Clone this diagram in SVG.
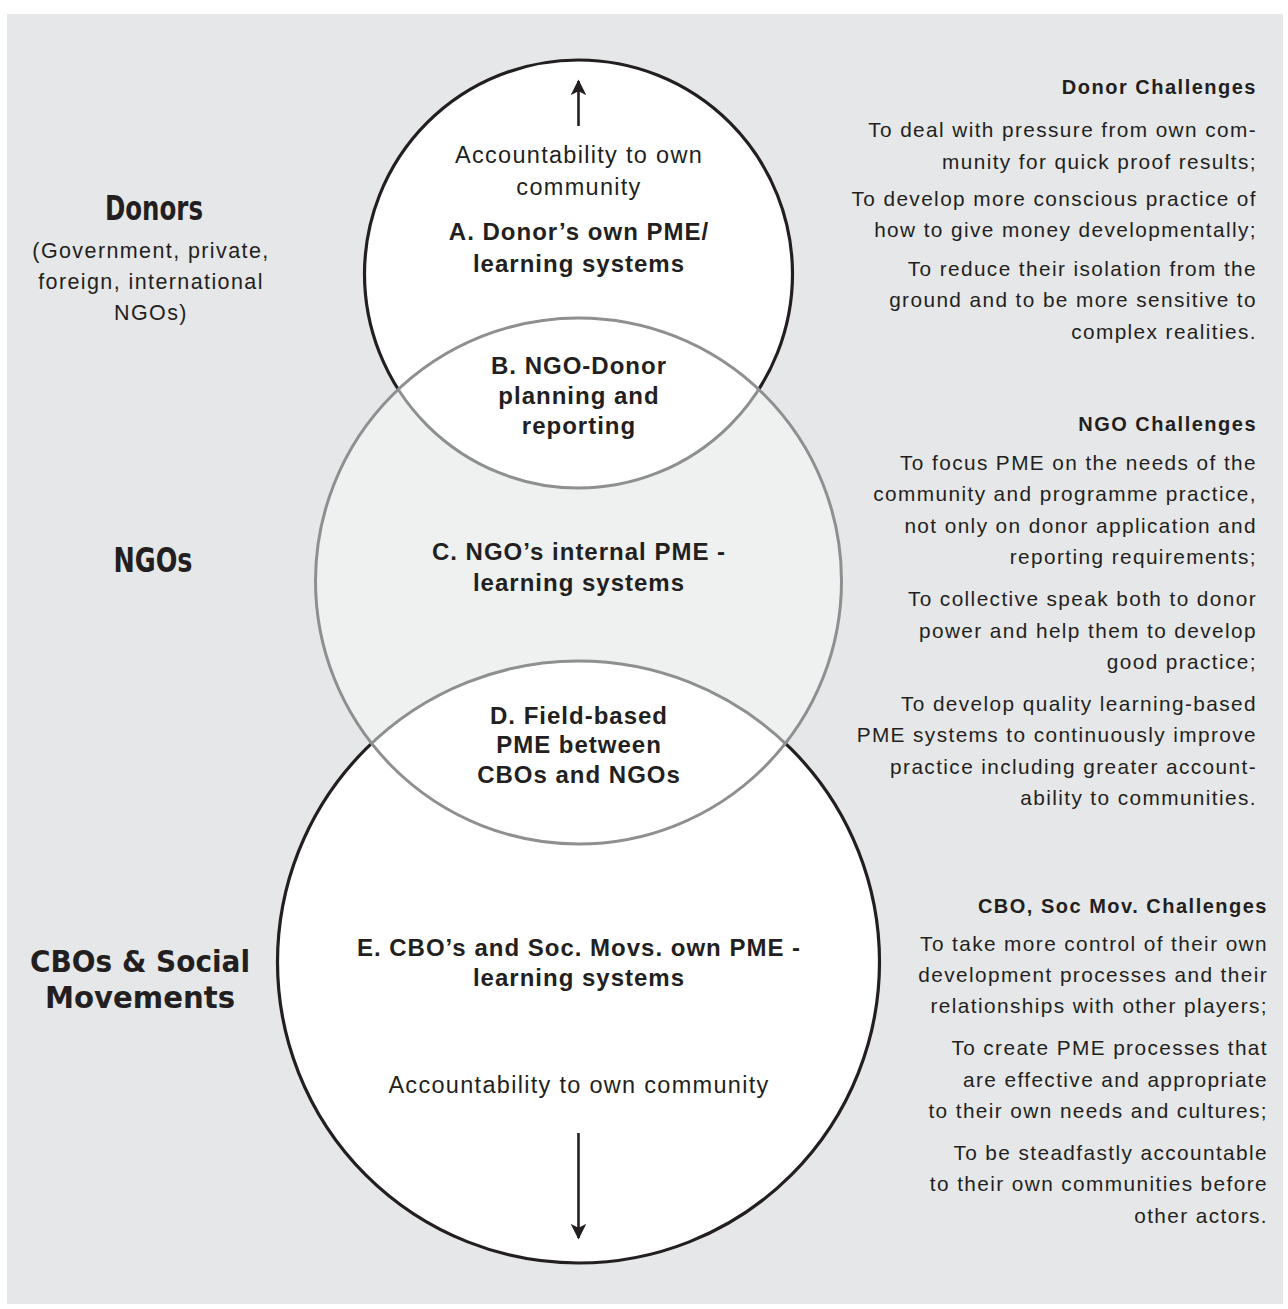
<svg xmlns="http://www.w3.org/2000/svg" width="1288" height="1309" viewBox="0 0 1288 1309">
<style>
.t{font-family:"Liberation Sans",Arial,sans-serif;fill:#231f20;}
.c{text-anchor:middle;font-size:23.5px;letter-spacing:1.3px;}
.cb{text-anchor:middle;font-size:24px;font-weight:bold;letter-spacing:1px;}
.l{text-anchor:middle;font-size:21.5px;letter-spacing:1.4px;}
.r{text-anchor:end;font-size:20.8px;letter-spacing:1.4px;}
.rb{text-anchor:end;font-size:20px;font-weight:bold;letter-spacing:1.5px;}
.h{font-family:"DejaVu Sans Condensed","DejaVu Sans",sans-serif;font-weight:bold;fill:#231f20;text-anchor:middle;font-size:34px;}
.h2{font-size:30.5px;}
.blk{fill:none;stroke:#231f20;stroke-width:3.2;}
.gry{fill:none;stroke:#8e8f90;stroke-width:3;}
.arr{stroke:#231f20;stroke-width:2.6;fill:none;}
</style>
<defs>
<clipPath id="inC"><circle cx="578.5" cy="581" r="263"/></clipPath>
<mask id="outC"><rect x="0" y="0" width="1288" height="1309" fill="#fff"/><circle cx="578.5" cy="581" r="263" fill="#000"/></mask>
<marker id="ah" viewBox="0 0 10 10" refX="9" refY="5" markerWidth="6" markerHeight="6" markerUnits="strokeWidth" orient="auto">
<path d="M0,0 L10,5 L0,10 L2.5,5 Z" fill="#231f20"/>
</marker>
</defs>
<rect x="7" y="14" width="1276" height="1290" fill="#e6e7e8"/>

<g id="node-C-fill"><circle cx="578.5" cy="581" r="263" fill="#eff0f0"/></g>
<g id="node-A"><circle cx="578.5" cy="274" r="214" fill="#fff"/></g>
<g id="node-E"><circle cx="578.5" cy="962" r="301" fill="#fff"/></g>
<g id="outlines">
<circle cx="578.5" cy="274" r="214" class="blk" mask="url(#outC)"/>
<circle cx="578.5" cy="962" r="301" class="blk" mask="url(#outC)"/>
<g clip-path="url(#inC)">
<circle cx="578.5" cy="274" r="214" class="gry"/>
<circle cx="578.5" cy="962" r="301" class="gry"/>
</g>
<circle id="node-C" cx="578.5" cy="581" r="263" class="gry"/>
</g>

<g id="connectors">
<line x1="578.5" y1="126" x2="578.5" y2="81" class="arr" marker-end="url(#ah)"/>
<line x1="578.5" y1="1133" x2="578.5" y2="1238" class="arr" marker-end="url(#ah)"/>
</g>

<g id="labels-center">
<text class="t c" x="579" y="163">Accountability to own</text>
<text class="t c" x="579" y="195">community</text>
<text class="t cb" x="579" y="240">A. Donor’s own PME/</text>
<text class="t cb" x="579" y="272">learning systems</text>
<text class="t cb" x="579" y="374">B. NGO-Donor</text>
<text class="t cb" x="579" y="404">planning and</text>
<text class="t cb" x="579" y="434">reporting</text>
<text class="t cb" x="579" y="560">C. NGO’s internal PME -</text>
<text class="t cb" x="579" y="591">learning systems</text>
<text class="t cb" x="579" y="724">D. Field-based</text>
<text class="t cb" x="579" y="753">PME between</text>
<text class="t cb" x="579" y="783">CBOs and NGOs</text>
<text class="t cb" x="579" y="956">E. CBO’s and Soc. Movs. own PME -</text>
<text class="t cb" x="579" y="986">learning systems</text>
<text class="t c" x="579" y="1093">Accountability to own community</text>
</g>

<g id="labels-left">
<text class="h" x="154" y="220" textLength="98" lengthAdjust="spacingAndGlyphs">Donors</text>
<text class="t l" x="151" y="258">(Government, private,</text>
<text class="t l" x="151" y="289">foreign, international</text>
<text class="t l" x="151" y="320">NGOs)</text>
<text class="h" x="153" y="572" textLength="79" lengthAdjust="spacingAndGlyphs">NGOs</text>
<text class="h h2" x="140" y="972" textLength="220" lengthAdjust="spacingAndGlyphs">CBOs &amp; Social</text>
<text class="h h2" x="140" y="1008" textLength="190" lengthAdjust="spacingAndGlyphs">Movements</text>
</g>

<g id="donor-challenges">
<text class="t rb" x="1257" y="94">Donor Challenges</text>
<text class="t r" x="1257" y="137">To deal with pressure from own com-</text>
<text class="t r" x="1257" y="169">munity for quick proof results;</text>
<text class="t r" x="1257" y="206">To develop more conscious practice of</text>
<text class="t r" x="1257" y="237">how to give money developmentally;</text>
<text class="t r" x="1257" y="276">To reduce their isolation from the</text>
<text class="t r" x="1257" y="307">ground and to be more sensitive to</text>
<text class="t r" x="1257" y="339">complex realities.</text>
</g>

<g id="ngo-challenges">
<text class="t rb" x="1257" y="431">NGO Challenges</text>
<text class="t r" x="1257" y="470">To focus PME on the needs of the</text>
<text class="t r" x="1257" y="501">community and programme practice,</text>
<text class="t r" x="1257" y="533">not only on donor application and</text>
<text class="t r" x="1257" y="564">reporting requirements;</text>
<text class="t r" x="1257" y="606">To collective speak both to donor</text>
<text class="t r" x="1257" y="638">power and help them to develop</text>
<text class="t r" x="1257" y="669">good practice;</text>
<text class="t r" x="1257" y="711">To develop quality learning-based</text>
<text class="t r" x="1257" y="742">PME systems to continuously improve</text>
<text class="t r" x="1257" y="774">practice including greater account-</text>
<text class="t r" x="1257" y="805">ability to communities.</text>
</g>

<g id="cbo-challenges">
<text class="t rb" x="1268" y="913">CBO, Soc Mov. Challenges</text>
<text class="t r" x="1268" y="951">To take more control of their own</text>
<text class="t r" x="1268" y="982">development processes and their</text>
<text class="t r" x="1268" y="1013">relationships with other players;</text>
<text class="t r" x="1268" y="1055">To create PME processes that</text>
<text class="t r" x="1268" y="1087">are effective and appropriate</text>
<text class="t r" x="1268" y="1118">to their own needs and cultures;</text>
<text class="t r" x="1268" y="1160">To be steadfastly accountable</text>
<text class="t r" x="1268" y="1191">to their own communities before</text>
<text class="t r" x="1268" y="1223">other actors.</text>
</g>
</svg>
